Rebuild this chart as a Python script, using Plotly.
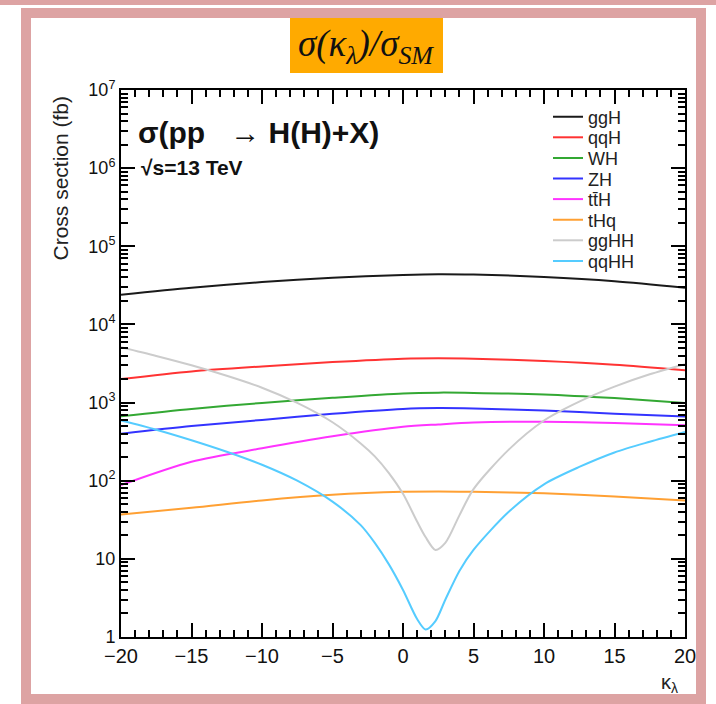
import plotly.graph_objects as go

# ---------------- data ----------------
kappa_h = [-20, -15, -10, -5, 0, 2.5, 5, 10, 15, 20]
ggH = [24000, 29500, 34800, 39500, 43000, 44000, 43500, 40500, 35800, 29500]
qqH = [2000, 2500, 2900, 3300, 3650, 3700, 3650, 3400, 3050, 2600]
WH = [670, 830, 990, 1150, 1310, 1340, 1330, 1270, 1140, 990]
ZH = [400, 500, 600, 720, 830, 850, 840, 790, 720, 665]
ttH = [88, 175, 260, 370, 490, 525, 555, 570, 548, 512]
tHq = [37, 45, 56, 66, 72, 73, 72, 69, 63, 56]

kappa_hh = [-20, -17.5, -15, -12.5, -10, -7.5, -5, -3, -2, -1, 0, 1, 1.6, 2.3,
            3, 4, 5, 7.5, 10, 12.5, 15, 17.5, 20]
ggHH = [5100, 3950, 3000, 2200, 1550, 990, 560, 300, 205, 125, 68, 30, 19, 13,
        16, 36, 78, 250, 590, 1030, 1600, 2300, 3100]
qqHH = [590, 450, 330, 235, 160, 100, 54, 27, 16, 8.5, 4, 1.7, 1.25, 1.6,
        3, 7, 13, 40, 90, 150, 230, 315, 420]

series_names = ["ggH", "qqH", "WH", "ZH", "tt\u0304H", "tHq", "ggHH", "qqHH"]
series_colors = ["#1a1a1a", "#ff3333", "#33a833", "#3333ff", "#ff33ff",
                 "#ffa033", "#cccccc", "#55ccff"]

y_tickvals = [1, 10, 100, 1000, 1e4, 1e5, 1e6, 1e7]
y_ticktext = ["1", "10", "10<sup>2</sup>", "10<sup>3</sup>", "10<sup>4</sup>",
              "10<sup>5</sup>", "10<sup>6</sup>", "10<sup>7</sup>"]
x_tickvals = [-20, -15, -10, -5, 0, 5, 10, 15, 20]
x_minor = [v for v in range(-20, 21) if v % 5 != 0]
y_minor = [m * 10 ** e for e in range(0, 7) for m in range(2, 10)]

# ---------------- figure ----------------
W, H = 716, 704
L, R, T, B = 121, 685, 90, 637
pw, ph = R - L, B - T


def px(x):
    return (x - L) / pw


def py(y):
    return (B - y) / ph


font_main = "Liberation Sans, Arial, sans-serif"

fig = go.Figure()
data_y = [ggH, qqH, WH, ZH, ttH, tHq, ggHH, qqHH]
data_x = [kappa_h] * 6 + [kappa_hh] * 2
axis_pairs = [("x", "y")] * 4 + [("x2", "y2"), ("x3", "y3"), ("x4", "y4"), ("x4", "y4")]
legend_y0, legend_dy = 117, 20.6
for i, (name, col, xs, ys) in enumerate(zip(series_names, series_colors, data_x, data_y)):
    xa, ya = axis_pairs[i]
    lg = "legend" if i == 0 else f"legend{i + 1}"
    fig.add_trace(go.Scatter(
        x=xs, y=ys, mode="lines", name=name, xaxis=xa, yaxis=ya, legend=lg,
        line=dict(color=col, width=2, shape="spline", smoothing=0.8),
    ))

legend_layout = {}
for i in range(len(series_names)):
    key = "legend" if i == 0 else f"legend{i + 1}"
    legend_layout[key] = dict(
        x=px(548), y=py(legend_y0 + legend_dy * i), xanchor="left", yanchor="middle",
        bgcolor="rgba(0,0,0,0)", borderwidth=0,
        font=dict(size=18, color="#222", family=font_main),
        itemwidth=30,
    )

common_x = dict(range=[-20, 20], showgrid=False, zeroline=False,
                ticks="inside", tickcolor="black", tickwidth=1.5)
common_y = dict(type="log", range=[0, 7], showgrid=False, zeroline=False,
                ticks="inside", tickcolor="black", tickwidth=1.5)

fig.update_layout(
    width=W, height=H,
    margin=dict(l=L, r=W - R, t=T, b=H - B, pad=0),
    paper_bgcolor="white", plot_bgcolor="white",
    font=dict(family=font_main, color="#111", size=18),
    showlegend=True,
    xaxis=dict(**common_x, tickvals=x_tickvals, ticklen=14,
               showline=True, linecolor="black", linewidth=2, mirror=True,
               tickfont=dict(size=20), anchor="y"),
    yaxis=dict(**common_y, tickvals=y_tickvals, ticktext=y_ticktext, ticklen=14,
               showline=True, linecolor="black", linewidth=2, mirror=True,
               tickfont=dict(size=18), anchor="x"),
    xaxis2=dict(**common_x, tickvals=x_tickvals, ticklen=14, overlaying="x",
                side="top", showticklabels=False, anchor="y2"),
    yaxis2=dict(**common_y, tickvals=y_tickvals, ticklen=14, overlaying="y",
                side="right", showticklabels=False, anchor="x2"),
    xaxis3=dict(**common_x, tickvals=x_minor, ticklen=7, overlaying="x",
                side="bottom", showticklabels=False, anchor="y3"),
    yaxis3=dict(**common_y, tickvals=y_minor, ticklen=7, overlaying="y",
                side="left", showticklabels=False, anchor="x3"),
    xaxis4=dict(**common_x, tickvals=x_minor, ticklen=7, overlaying="x",
                side="top", showticklabels=False, anchor="y4"),
    yaxis4=dict(**common_y, tickvals=y_minor, ticklen=7, overlaying="y",
                side="right", showticklabels=False, anchor="x4"),
    **legend_layout,
)

annotations = [
    dict(text="Cross section (fb)", textangle=-90, x=px(60), y=py(94),
         xanchor="center", yanchor="top", font=dict(size=21, color="#222")),
    dict(text="\u03ba<sub>\u03bb</sub>", x=px(669), y=py(683),
         xanchor="center", yanchor="middle", font=dict(size=20, color="#222")),
    dict(text="<b>\u03c3(pp\u00a0\u00a0\u00a0\u2192\u00a0H(H)+X)</b>", x=px(136), y=py(133),
         xanchor="left", yanchor="middle", font=dict(size=30, color="#111")),
    dict(text="<b>\u221as=13 TeV</b>", x=px(139), y=py(168),
         xanchor="left", yanchor="middle", font=dict(size=21, color="#111")),
    dict(text="<i>\u03c3(\u03ba<sub>\u03bb</sub>)/\u03c3<sub>SM</sub></i>",
         x=px(366), y=py(46), xanchor="center", yanchor="middle",
         font=dict(size=37, color="#111",
                   family="Liberation Serif, Times New Roman, serif")),
]
for a in annotations:
    a.update(xref="paper", yref="paper", showarrow=False)
    fig.add_annotation(**a)

pink = "rgb(221,163,163)"
shapes = [
    dict(type="rect", x0=px(290), x1=px(443), y0=py(18), y1=py(73),
         fillcolor="rgb(255,170,0)", line=dict(width=0), layer="below"),
    dict(type="rect", x0=px(0), x1=px(716), y0=py(0), y1=py(5),
         fillcolor=pink, line=dict(width=0)),
    dict(type="rect", x0=px(26), x1=px(701), y0=py(13), y1=py(699),
         line=dict(color=pink, width=10)),
]
for s in shapes:
    s.update(xref="paper", yref="paper")
    fig.add_shape(**s)

fig.write_html("out.html", config={"displayModeBar": False},
               post_script="document.body.style.margin='0';")
